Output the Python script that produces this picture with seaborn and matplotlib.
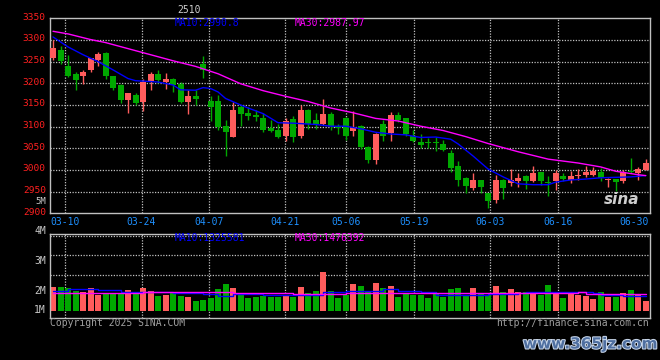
import numpy as np
import pandas as pd
import matplotlib
matplotlib.use("Agg")
import matplotlib.pyplot as plt
import matplotlib.patheffects as pe
import matplotlib.transforms as mtransforms
import seaborn as sns

# daily bars, index 0 = 03-10 (two bars before it, two after 06-30)
day_idx = list(range(-2, 78))
opens = [3258, 3278, 3241, 3221, 3216, 3230, 3254, 3270, 3216, 3196, 3161, 3173,
         3158, 3205, 3221, 3203, 3211, 3198, 3158, 3171, 3244, 3158,
         3159, 3102, 3075, 3145, 3132, 3127, 3120, 3097, 3093, 3079,
         3118, 3079, 3139, 3116, 3106, 3130, 3102, 3120, 3089, 3102,
         3054, 3023, 3106, 3086, 3128, 3120, 3079, 3065, 3063, 3065,
         3060, 3040, 3010, 2982, 2959, 2976, 2947, 2931, 2976, 2970,
         2974, 2986, 2974, 2995, 2971, 2974, 2987, 2978, 2986, 2989,
         2989, 2995, 2978, 2979, 2974, 2998, 2992, 3001]
highs = [3300, 3285, 3266, 3226, 3230, 3259, 3273, 3273, 3217, 3198, 3178, 3177,
         3211, 3226, 3230, 3224, 3213, 3203, 3184, 3184, 3264, 3170,
         3173, 3116, 3157, 3150, 3145, 3139, 3131, 3116, 3105, 3120,
         3125, 3149, 3141, 3131, 3164, 3133, 3105, 3122, 3137, 3103,
         3055, 3086, 3116, 3134, 3133, 3121, 3093, 3082, 3074, 3076,
         3070, 3047, 3020, 2983, 2992, 2977, 2948, 2989, 2979, 3002,
         2992, 2989, 3010, 2996, 2987, 3001, 2993, 2997, 3002, 3010,
         3008, 3005, 2982, 2980, 3001, 3028, 3008, 3025]
lows = [3254, 3245, 3215, 3184, 3199, 3226, 3239, 3211, 3184, 3154, 3132, 3150,
        3135, 3184, 3201, 3186, 3180, 3154, 3129, 3150, 3212, 3112,
        3093, 3032, 3075, 3102, 3116, 3112, 3087, 3087, 3073, 3066,
        3064, 3073, 3095, 3095, 3103, 3092, 3084, 3070, 3079, 3049,
        3017, 3013, 3066, 3066, 3111, 3079, 3064, 3051, 3051, 3044,
        3044, 2996, 2963, 2947, 2953, 2946, 2913, 2923, 2934, 2963,
        2961, 2955, 2972, 2966, 2940, 2953, 2974, 2970, 2976, 2984,
        2985, 2974, 2961, 2951, 2970, 2993, 2976, 2999]
closes = [3282, 3251, 3218, 3207, 3225, 3258, 3267, 3216, 3190, 3161, 3177, 3155,
          3203, 3221, 3207, 3209, 3196, 3158, 3171, 3164, 3230, 3145,
          3100, 3087, 3138, 3129, 3125, 3122, 3093, 3091, 3076, 3114,
          3076, 3139, 3106, 3105, 3130, 3102, 3097, 3078, 3099, 3053,
          3023, 3084, 3079, 3128, 3116, 3082, 3068, 3057, 3062, 3063,
          3046, 3004, 2978, 2963, 2978, 2960, 2928, 2976, 2959, 2978,
          2982, 2974, 2992, 2974, 2970, 2992, 2980, 2987, 2987, 2995,
          2998, 2982, 2979, 2972, 2995, 2995, 3002, 3015]
# volume, in M
volumes = [2.13, 2.13, 2.10, 2.00, 1.97, 2.10, 1.86, 1.93, 1.91, 1.89, 2.02, 1.89,
           2.10, 2.00, 1.82, 1.86, 1.91, 1.82, 1.80, 1.67, 1.69, 1.75,
           2.07, 2.22, 2.08, 1.86, 1.77, 1.80, 1.82, 1.80, 1.78, 1.86,
           1.80, 2.13, 1.93, 1.99, 2.63, 1.99, 1.77, 1.86, 2.22, 2.17,
           2.00, 2.27, 2.10, 2.17, 1.80, 1.89, 1.86, 1.86, 1.77, 1.91,
           1.80, 2.06, 2.10, 1.86, 2.10, 1.91, 1.86, 2.17, 1.97, 2.06,
           1.97, 1.97, 1.93, 1.86, 2.19, 1.91, 1.77, 1.89, 1.86, 1.82,
           1.72, 1.95, 1.80, 1.80, 1.93, 2.02, 1.86, 1.67]

# moving averages
ma10_days = [-2, 0, 2, 4, 6, 8, 9, 12, 14, 15, 17, 18, 19, 20, 21, 23, 24, 26, 28, 30,
             33, 35, 37, 39, 41, 43, 45, 47, 49, 51, 52, 54, 56, 58, 60, 62, 64, 65, 67, 69,
             71, 73, 75, 77]
ma10_vals = [3307, 3284, 3266, 3250, 3231, 3211, 3206, 3203, 3196, 3185, 3184, 3190, 3188, 3180,
             3165, 3150, 3143, 3130, 3109, 3108, 3105, 3101, 3101, 3095, 3087, 3083, 3081, 3075,
             3076, 3071, 3060, 3032, 3002, 2984, 2968, 2966, 2966, 2972, 2977, 2979, 2982, 2983,
             2984, 2987]
ma30_days = [-2, 0, 3, 5, 8, 11, 14, 17, 20, 23, 26, 29, 32, 35, 38, 41, 44, 47, 50, 53,
             56, 60, 64, 68, 71, 73, 76, 77]
ma30_vals = [3320, 3314, 3301, 3294, 3280, 3266, 3252, 3239, 3222, 3199, 3183, 3170, 3158, 3143,
             3132, 3119, 3113, 3101, 3091, 3077, 3061, 3042, 3025, 3016, 3007, 2997, 2989, 2987]
vma10_days = [-2, 0, 4, 7, 10, 14, 18, 20, 22, 26, 33, 34, 37, 42, 43, 44, 47, 49, 53, 56,
              60, 61, 70, 71, 74, 77]
vma10_vals = [2.00, 2.05, 2.03, 1.97, 1.95, 1.93, 1.88, 1.84, 1.88, 1.87, 1.86, 1.95, 1.99,
              2.05, 2.07, 1.99, 1.97, 1.86, 1.86, 1.89, 1.91, 1.97, 1.93, 1.86, 1.84, 1.82]
vma30_days = [-2, 5, 10, 20, 22, 27, 30, 34, 37, 47, 50, 68, 69, 77]
vma30_vals = [1.91, 1.93, 1.96, 1.97, 1.92, 1.91, 1.89, 1.90, 1.92, 1.93, 1.94, 1.95, 1.89, 1.89]

date_labels = ["03-10", "03-24", "04-07", "04-21", "05-06", "05-19", "06-03", "06-16", "06-30"]
date_pos = [-0.36, 9.8, 18.83, 28.96, 37.09, 46.15, 56.28, 65.34, 75.4]
price_ticks = list(range(2900, 3351, 50))
vol_labels = ["4M", "3M", "2M", "1M"]
vol_label_y = [4.0, 3.0, 2.0, 1.36]
vol_grid = [2.52, 3.19, 3.83]
VOL_BASE = 1.333

RED = "#ff5c5c"
GREEN = "#00a800"
GRID = "#c0c0c0"

sns.set_theme(style="dark")
plt.rcParams["font.family"] = ["DejaVu Sans Mono"]

df = pd.DataFrame({"day": day_idx, "open": opens, "high": highs, "low": lows,
                   "close": closes, "vol": volumes})
df["color"] = np.where(df["close"] >= df["open"], RED, GREEN)
df["body_lo"] = df[["open", "close"]].min(axis=1)
df["body_h"] = np.maximum((df["close"] - df["open"]).abs(), 2.0)

fig = plt.figure(figsize=(6.6, 3.6), dpi=100, facecolor="black")
ax = fig.add_axes([50 / 660, 1 - 213.3 / 360, 599.5 / 660, 195 / 360])
axv = fig.add_axes([50 / 660, 1 - 318.3 / 360, 599.5 / 660, 84 / 360])

dots = (0, (1, 1.2))
for a in (ax, axv):
    a.set_facecolor("black")
    a.set_xlim(-2.4, 77.5)
    for s in a.spines.values():
        s.set_color(GRID)
        s.set_linewidth(1)
    a.grid(False)
    for p in date_pos[:-1]:
        a.axvline(p, color=GRID, lw=0.9, ls=dots, zorder=0)

# price panel
ax.set_ylim(2900, 3350)
for p in price_ticks[1:-1]:
    ax.axhline(p, color=GRID, lw=0.9, ls=dots, zorder=0)
ax.vlines(df["day"], df["low"], df["high"], colors=df["color"], lw=1, zorder=2)
ax.bar(df["day"], df["body_h"], bottom=df["body_lo"], width=0.8, color=df["color"],
       linewidth=0, zorder=3)
sns.lineplot(x=ma10_days, y=ma10_vals, ax=ax, color="#0000ff", lw=1, zorder=4)
sns.lineplot(x=ma30_days, y=ma30_vals, ax=ax, color="#ff00ff", lw=1, zorder=4)
ax.set_yticks(price_ticks)
ax.set_yticklabels([str(t) for t in price_ticks], color="#ff2020", fontsize=6.8)
ax.set_xticks(date_pos)
ax.set_xticklabels(date_labels, color="#1e90ff", fontsize=7)
ax.tick_params(length=0, pad=3)
lift = mtransforms.ScaledTranslation(0, 2 / 100, fig.dpi_scale_trans)
for lab in ax.get_yticklabels():
    lab.set_transform(lab.get_transform() + lift)
ax.set_xlabel("")
ax.set_ylabel("")

# volume panel
axv.set_ylim(1.08, 3.88)
for g in vol_grid:
    axv.axhline(g, color=GRID, lw=0.9, ls=dots, zorder=0)
axv.bar(df["day"], df["vol"] - VOL_BASE, bottom=VOL_BASE, width=0.8, color=df["color"],
        linewidth=0, zorder=2)
sns.lineplot(x=vma10_days, y=vma10_vals, ax=axv, color="#0000ff", lw=1, zorder=3,
             drawstyle="steps-post")
sns.lineplot(x=vma30_days, y=vma30_vals, ax=axv, color="#ff00ff", lw=1, zorder=3,
             drawstyle="steps-post")
axv.set_xticks([])
axv.set_yticks([])
axv.set_xlabel("")
axv.set_ylabel("")
tr = mtransforms.blended_transform_factory(axv.transAxes, axv.transData)
for lab, y in zip(vol_labels, vol_label_y):
    axv.text(-4 / 599.5, y, lab, transform=tr, ha="right", va="center",
             color="#c8c8c8", fontsize=7)

# header / footer texts
def ftext(x, y, s, **kw):
    fig.text(x / 660, 1 - y / 360, s, va="center", **kw)

ftext(189, 10, "2510", color="#d0d0d0", ha="center", fontsize=7)
ftext(175, 23, "MA10:2990.8", color="#0000ff", ha="left", fontsize=7)
ftext(295, 23, "MA30:2987.97", color="#ff00ff", ha="left", fontsize=7)
ftext(175, 238, "MA10:1325581", color="#0000ff", ha="left", fontsize=7)
ftext(295, 238, "MA30:1476392", color="#ff00ff", ha="left", fontsize=7)
ftext(46, 201, "5M", color="#c8c8c8", ha="right", fontsize=6.5)
ftext(50, 323, "Copyright 2025 SINA.COM", color="#a0a0a0", ha="left", fontsize=7)
ftext(649, 323, "http://finance.sina.com.cn", color="#a0a0a0", ha="right", fontsize=7)
fig.text(622 / 660, 1 - 200 / 360, "sina", ha="center", va="center", fontsize=11,
         family="DejaVu Sans", style="italic", weight="bold", color="#e6e6e6", alpha=0.9)
fig.text(590 / 660, 1 - 344 / 360, "www.365jz.com", ha="center", va="center", fontsize=11,
         family="DejaVu Sans", weight="bold", color="#4f6fa0",
         path_effects=[pe.withStroke(linewidth=1.5, foreground="#c8d6ea")])

fig.savefig("out.png", dpi=100, facecolor="black")
